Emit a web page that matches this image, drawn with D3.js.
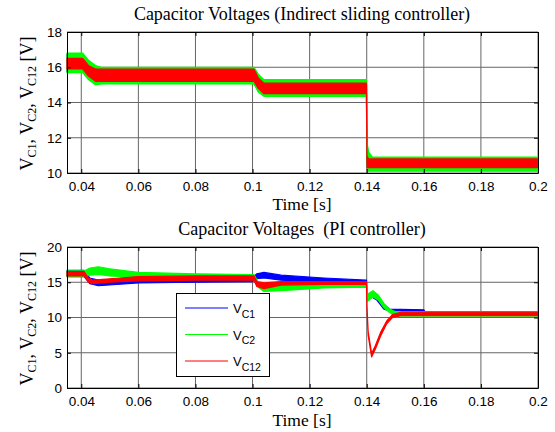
<!DOCTYPE html>
<html>
<head>
<meta charset="utf-8">
<script src="https://cdn.jsdelivr.net/npm/d3@7"></script>
<style>
  body { margin: 0; background: #fff; }
</style>
</head>
<body>
<div id="chart"></div>
<script>
// tick labels
var xTicks = [0.04, 0.06, 0.08, 0.1, 0.12, 0.14, 0.16, 0.18, 0.2];
var smcTicks = [10, 12, 14, 16, 18];
var piTicks = [0, 5, 10, 15, 20];

// indirect sliding controller -> ripple bands (low / high) of each voltage
var smcT    = [0.035, 0.0405, 0.0425, 0.045, 0.047, 0.1005, 0.102, 0.104, 0.1399, 0.1401, 0.1406, 0.142, 0.146, 0.2];
var smcC1Hi = [16.75, 16.75, 16.35, 16.05, 15.95, 15.95, 15.55, 15.25, 15.25, 11.6, 11.1, 10.85, 10.85, 10.85];
var smcC1Lo = [15.75, 15.75, 15.35, 15.05, 15.1, 15.1, 14.65, 14.4, 14.4, 10.5, 10.15, 10.15, 10.15, 10.15];
var smcC2Hi = [16.8, 16.8, 16.4, 16.1, 16.0, 16.0, 15.6, 15.3, 15.3, 11.8, 11.2, 10.9, 10.9, 10.9];
var smcC2Lo = [15.7, 15.7, 15.3, 15.0, 15.05, 15.05, 14.6, 14.35, 14.35, 10.4, 10.1, 10.1, 10.1, 10.1];
var smcC12Hi = [16.5, 16.5, 16.1, 15.9, 15.9, 15.9, 15.4, 15.1, 15.1, 11.0, 10.8, 10.8, 10.8, 10.8];
var smcC12Lo = [15.9, 15.9, 15.5, 15.2, 15.2, 15.2, 14.8, 14.5, 14.5, 10.3, 10.3, 10.3, 10.3, 10.3];

// PI controller
var piC1T  = [0.035, 0.041, 0.043, 0.046, 0.06, 0.08, 0.1, 0.1015, 0.104, 0.11, 0.125, 0.1399, 0.1402, 0.1418, 0.1435, 0.146, 0.148, 0.16, 0.1605, 0.2];
var piC1Hi = [16.7, 16.7, 15.6, 15.3, 15.5, 15.6, 15.6, 16.2, 16.4, 16.0, 15.6, 15.3, 13.1, 13.6, 13.2, 11.8, 11.2, 11.1, 10.75, 10.75];
var piC1Lo = [15.8, 15.8, 14.8, 14.5, 14.9, 15.0, 15.1, 15.5, 15.6, 15.3, 15.0, 14.9, 12.4, 12.9, 12.5, 11.2, 10.9, 10.85, 10.3, 10.3];

var piC2T  = [0.035, 0.041, 0.043, 0.046, 0.05, 0.06, 0.08, 0.1, 0.1005, 0.102, 0.104, 0.11, 0.125, 0.1399, 0.1402, 0.1422, 0.144, 0.146, 0.148, 0.15, 0.2];
var piC2Hi = [16.6, 16.6, 17.0, 17.2, 16.9, 16.4, 16.2, 16.1, 16.1, 15.0, 14.6, 14.8, 14.9, 14.9, 13.3, 13.8, 13.2, 12.0, 11.2, 10.85, 10.85];
var piC2Lo = [15.8, 15.8, 16.0, 16.1, 15.9, 15.7, 15.6, 15.5, 15.5, 14.3, 13.7, 13.8, 14.2, 14.3, 12.3, 12.9, 12.5, 11.4, 10.7, 10.2, 10.2];

var piC12T  = [0.035, 0.041, 0.0425, 0.044, 0.05, 0.06, 0.08, 0.1, 0.1005, 0.1015, 0.104, 0.11, 0.125, 0.1399, 0.1401, 0.1405, 0.1417, 0.143, 0.145, 0.147, 0.149, 0.152, 0.2];
var piC12Hi = [16.5, 16.5, 15.6, 15.3, 15.5, 15.8, 15.9, 15.9, 15.9, 15.1, 14.9, 15.1, 15.1, 15.1, 11.5, 8.0, 4.9, 6.0, 8.0, 9.5, 10.4, 10.75, 10.75];
var piC12Lo = [15.9, 15.9, 15.0, 14.8, 15.0, 15.2, 15.3, 15.3, 15.3, 14.4, 14.1, 14.6, 14.7, 14.7, 11.0, 7.5, 4.4, 5.5, 7.5, 9.1, 10.0, 10.25, 10.25];

var legendNames = ["C1", "C2", "C12"];
var colors = ["#0000ff", "#00ff00", "#ff0000"];

var sans = "'Liberation Sans', Arial, sans-serif";
var serif = "'Liberation Serif', 'Times New Roman', serif";

var svg = d3.select("#chart")
  .append("svg")
    .attr("width", 555)
    .attr("height", 432);

var x = d3.scaleLinear().domain([0.035, 0.2]).range([67, 538]);
var fmt = function(d) { return String(+d.toFixed(2)); };

function drawPanel(top, bottom, yDomain, yTicks, series, title, titleY, xlabelY) {
  var y = d3.scaleLinear().domain(yDomain).range([bottom, top]);
  var g = svg.append("g");

  // grid
  g.selectAll(null).data(xTicks).enter().append("line")
    .attr("x1", function(d) { return x(d); })
    .attr("x2", function(d) { return x(d); })
    .attr("y1", top).attr("y2", bottom)
    .attr("stroke", "#666").attr("stroke-width", 1);
  g.selectAll(null).data(yTicks).enter().append("line")
    .attr("x1", x.range()[0]).attr("x2", x.range()[1])
    .attr("y1", function(d) { return y(d); })
    .attr("y2", function(d) { return y(d); })
    .attr("stroke", "#666").attr("stroke-width", 1);

  // ripple bands
  series.forEach(function(s) {
    var area = d3.area()
      .x(function(d, i) { return x(s.t[i]); })
      .y0(function(d, i) { return y(s.lo[i]); })
      .y1(function(d, i) { return y(s.hi[i]); });
    g.append("path")
      .datum(s.t)
      .attr("d", area)
      .attr("fill", s.color)
      .attr("stroke", s.color)
      .attr("stroke-width", 1.2)
      .attr("stroke-linejoin", "round");
  });

  // axes, ticks inside
  g.append("g").attr("transform", "translate(0," + bottom + ")")
    .call(d3.axisBottom(x).tickValues(xTicks).tickSize(-4).tickSizeOuter(0).tickPadding(8.5).tickFormat(fmt));
  g.append("g").attr("transform", "translate(" + x.range()[0] + ",0)")
    .call(d3.axisLeft(y).tickValues(yTicks).tickSize(-4).tickSizeOuter(0).tickPadding(5));
  g.append("g").attr("transform", "translate(0," + top + ")")
    .call(d3.axisTop(x).tickValues(xTicks).tickSize(-4).tickSizeOuter(0).tickFormat(""));
  g.append("g").attr("transform", "translate(" + x.range()[1] + ",0)")
    .call(d3.axisRight(y).tickValues(yTicks).tickSize(-4).tickSizeOuter(0).tickFormat(""));
  g.selectAll(".domain, .tick line").attr("stroke", "#000");
  g.selectAll(".tick text").attr("fill", "#000")
    .style("font-family", sans).style("font-size", "13.5px");

  // title and axis labels
  g.append("text")
    .attr("x", 302).attr("y", titleY)
    .attr("text-anchor", "middle")
    .style("font-family", serif).style("font-size", "18px")
    .style("white-space", "pre")
    .text(title);
  g.append("text")
    .attr("x", 302).attr("y", xlabelY)
    .attr("text-anchor", "middle")
    .style("font-family", serif).style("font-size", "17.5px")
    .text("Time [s]");

  var yl = g.append("text")
    .attr("transform", "translate(33," + ((top + bottom) / 2 + 1) + ") rotate(-90)")
    .attr("text-anchor", "middle")
    .style("font-family", serif).style("font-size", "18px");
  var parts = [["V", "C1", ", "], ["V", "C2", ", "], ["V", "C12", " [V]"]];
  parts.forEach(function(p) {
    yl.append("tspan").text(p[0]);
    yl.append("tspan").attr("dy", 3).style("font-size", "12px").text(p[1]);
    yl.append("tspan").attr("dy", -3).style("white-space", "pre").text(p[2]);
  });
  return y;
}

drawPanel(32, 173, [10, 18], smcTicks, [
  {t: smcT, lo: smcC1Lo, hi: smcC1Hi, color: colors[0]},
  {t: smcT, lo: smcC2Lo, hi: smcC2Hi, color: colors[1]},
  {t: smcT, lo: smcC12Lo, hi: smcC12Hi, color: colors[2]}
], "Capacitor Voltages (Indirect sliding controller)", 20, 210);

drawPanel(247, 388, [0, 20], piTicks, [
  {t: piC1T, lo: piC1Lo, hi: piC1Hi, color: colors[0]},
  {t: piC2T, lo: piC2Lo, hi: piC2Hi, color: colors[1]},
  {t: piC12T, lo: piC12Lo, hi: piC12Hi, color: colors[2]}
], "Capacitor Voltages  (PI controller)", 235, 426);

// legend
var legend = svg.append("g");
legend.append("rect")
  .attr("x", 176.5).attr("y", 293.5).attr("width", 93).attr("height", 83)
  .attr("fill", "#fff").attr("stroke", "#000").attr("stroke-width", 1);
legendNames.forEach(function(n, i) {
  var ly = 308 + i * 26.5;
  legend.append("line")
    .attr("x1", 185).attr("x2", 228).attr("y1", ly).attr("y2", ly)
    .attr("stroke", colors[i]).attr("stroke-width", 1.2);
  var t = legend.append("text")
    .attr("x", 233).attr("y", ly + 5)
    .style("font-family", sans).style("font-size", "13px");
  t.append("tspan").text("V");
  t.append("tspan").attr("dy", 4.5).style("font-size", "10.5px").text(n);
});
</script>
</body>
</html>
